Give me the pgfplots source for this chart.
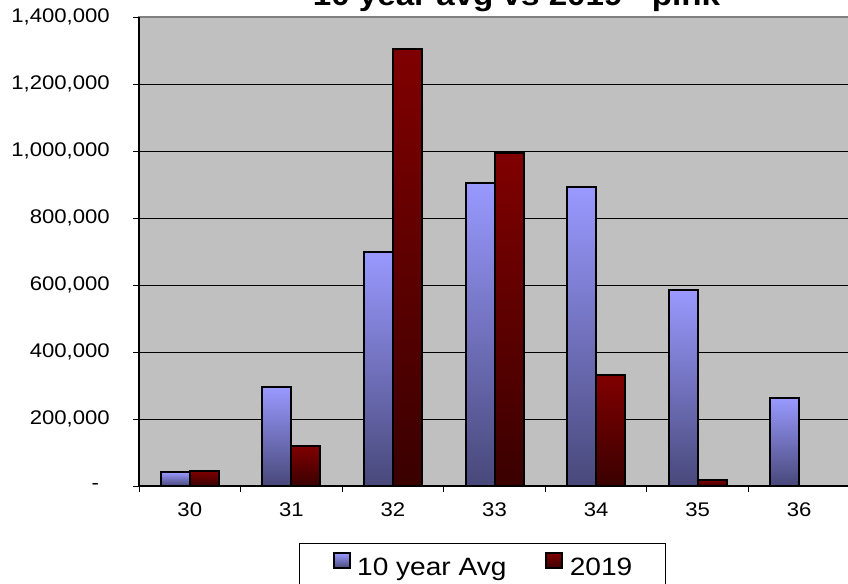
\documentclass[border=0pt]{standalone}
\usepackage{pgfplots}
\pgfplotsset{compat=1.18}
\usepackage{fontspec}
\setmainfont{Liberation Sans}[FakeStretch=1.12]
\definecolor{bg}{HTML}{C0C0C0}
\definecolor{bluetop}{HTML}{9999FF}
\definecolor{bluebot}{HTML}{48487A}
\definecolor{redtop}{HTML}{800000}
\definecolor{redbot}{HTML}{3A0000}
\newcommand\toplab{1,400,000}
\pgfplotsset{
  avgbar/.style={ybar, bar width=21.75pt, bar shift=-10.875pt, draw=black, line width=1.5pt, top color=bluetop, bottom color=bluebot},
  newbar/.style={ybar, bar width=21.75pt, bar shift=10.875pt, draw=black, line width=1.5pt, top color=redtop, bottom color=redbot},
}
\begin{document}
\begin{tikzpicture}
\begin{axis}[
  at={(104.25pt,-364.5pt)}, anchor=south west,
  scale only axis, width=533.25pt, height=351.75pt,
  xmin=-0.5, xmax=6.5, ymin=0, ymax=1400000,
  axis x line*=bottom, axis y line*=left,
  axis line style={black, line width=1pt},
  axis background/.style={fill=bg, draw=gray, line width=1.5pt},
  tick align=outside, major tick length=4.5pt, minor tick length=4.5pt,
  scaled y ticks=false,
  ytick={0,200000,400000,600000,800000,1000000,1200000},
  yticklabels={{-\hspace*{8pt}},{200,000},{400,000},{600,000},{800,000},{1,000,000},{1,200,000}},
  extra y ticks={1400000}, extra y tick labels={\toplab}, extra y tick style={grid=none},
  ymajorgrids, major grid style={black, line width=0.75pt},
  tick style={black, line width=0.75pt},
  xtick={0,1,2,3,4,5,6}, xticklabels={30,31,32,33,34,35,36},
  every major x tick/.append style={draw=none},
  minor xtick={-0.5,0.5,1.5,2.5,3.5,4.5,5.5,6.5},
  tick label style={font=\fontsize{14.8}{17}\selectfont},
  yticklabel style={anchor=east, inner sep=0pt}, yticklabel shift=17.25pt,
  xticklabel style={anchor=north, inner sep=0pt}, xticklabel shift=7.5pt,
  title={10 year avg vs 2019 - pink},
  title style={at={(0.531,1)}, anchor=base, yshift=2.5pt, inner sep=0pt, font=\bfseries\fontsize{22.2}{26}\selectfont},
  legend columns=2,
  legend style={at={(0.483,-0.1215)}, anchor=north, draw=black, line width=0.75pt,
    inner xsep=24.75pt, inner ysep=6.5pt, font=\fontsize{18.8}{22}\selectfont,
    nodes={inner sep=0pt},
    /tikz/every odd column/.style={column sep=5pt},
    /tikz/every even column/.style={column sep=29pt}},
  legend image code/.code={\draw[#1, line width=1.5pt] (0pt,0pt) rectangle (12pt,11.25pt);},
]
% 10 year Avg
\addplot[avgbar] coordinates {(0,41000)};
\addplot[avgbar, forget plot] coordinates {(1,295000)};
\addplot[avgbar, forget plot] coordinates {(2,700000)};
\addplot[avgbar, forget plot] coordinates {(3,906000)};
\addplot[avgbar, forget plot] coordinates {(4,892000)};
\addplot[avgbar, forget plot] coordinates {(5,584000)};
\addplot[avgbar, forget plot] coordinates {(6,262000)};
% 2019
\addplot[newbar] coordinates {(0,45000)};
\addplot[newbar, forget plot] coordinates {(1,120000)};
\addplot[newbar, forget plot] coordinates {(2,1304000)};
\addplot[newbar, forget plot] coordinates {(3,993000)};
\addplot[newbar, forget plot] coordinates {(4,331000)};
\addplot[newbar, forget plot] coordinates {(5,18000)};
\legend{10 year Avg, 2019}
\end{axis}
\pgfresetboundingbox
\useasboundingbox (0pt,0pt) rectangle (636pt,-437.25pt);
\end{tikzpicture}
\end{document}
